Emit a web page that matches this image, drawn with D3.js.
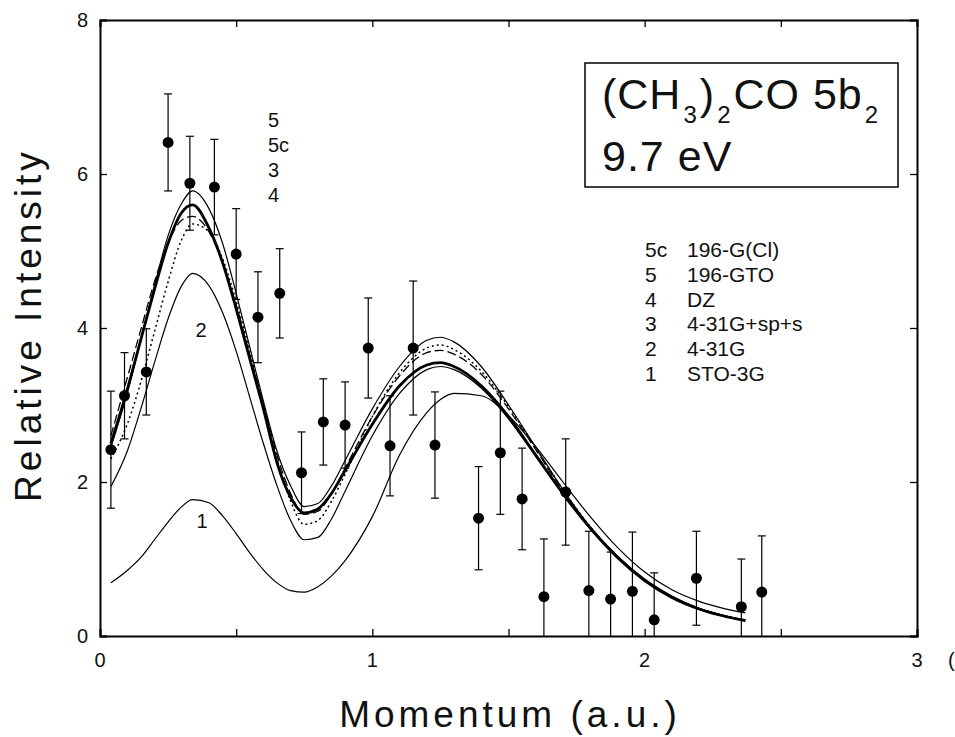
<!DOCTYPE html>
<html>
<head>
<meta charset="utf-8">
<script src="https://cdn.jsdelivr.net/npm/d3@7"></script>
<style>
  body { margin: 0; background: #fff; }
  text { font-family: "Liberation Sans", Arial, sans-serif; fill: #111; }
</style>
</head>
<body>
<svg width="955" height="737"></svg>
<script>
// measured points (momentum, intensity, error)
const momentum = [0.04, 0.09, 0.17, 0.25, 0.33, 0.42, 0.50, 0.58, 0.66, 0.74, 0.82, 0.90, 0.985, 1.065,
  1.15, 1.23, 1.39, 1.47, 1.55, 1.63, 1.71, 1.795, 1.875, 1.955, 2.035, 2.19, 2.355, 2.43];
const intensity = [2.42, 3.12, 3.43, 6.41, 5.88, 5.83, 4.96, 4.14, 4.45, 2.12, 2.78, 2.74, 3.74, 2.47,
  3.74, 2.48, 1.53, 2.38, 1.78, 0.51, 1.87, 0.59, 0.48, 0.58, 0.21, 0.75, 0.38, 0.57];
const errors = [0.76, 0.56, 0.56, 0.63, 0.61, 0.62, 0.59, 0.59, 0.58, 0.53, 0.56, 0.56, 0.65, 0.65,
  0.87, 0.69, 0.67, 0.8, 0.66, 0.75, 0.69, 0.77, 0.61, 0.77, 0.61, 0.61, 0.62, 0.73];

// calculated curves, all on the same momentum grid
const grid = [0.04, 0.1, 0.15, 0.2, 0.25, 0.3, 0.34, 0.4, 0.45, 0.5, 0.55, 0.6, 0.65, 0.7, 0.75, 0.8, 0.85,
  0.9, 1.0, 1.1, 1.2, 1.25, 1.3, 1.4, 1.5, 1.6, 1.7, 1.8, 1.9, 2.0, 2.1, 2.2, 2.3, 2.37];
const sto3g = [0.69, 0.85, 1.02, 1.25, 1.48, 1.68, 1.77, 1.73, 1.56, 1.33, 1.08, 0.86, 0.69, 0.59, 0.57, 0.64, 0.78,
  0.98, 1.55, 2.35, 2.9, 3.07, 3.15, 3.12, 2.86, 2.46, 2.0, 1.55, 1.15, 0.83, 0.6, 0.45, 0.35, 0.3];
const g431 = [1.94, 2.4, 2.95, 3.55, 4.12, 4.55, 4.71, 4.55, 4.2, 3.7, 3.1, 2.5, 1.95, 1.5, 1.25, 1.28, 1.52,
  1.88, 2.6, 3.15, 3.46, 3.5, 3.46, 3.22, 2.82, 2.33, 1.84, 1.4, 1.03, 0.73, 0.51, 0.36, 0.26, 0.21];
const g431sps = [2.6, 3.35, 3.98, 4.6, 5.1, 5.4, 5.45, 5.25, 4.85, 4.3, 3.65, 3.0, 2.35, 1.85, 1.58, 1.62, 1.85,
  2.18, 2.85, 3.38, 3.68, 3.71, 3.66, 3.4, 2.95, 2.42, 1.88, 1.4, 1.02, 0.73, 0.51, 0.35, 0.25, 0.2];
const dz = [2.3, 2.75, 3.3, 3.95, 4.6, 5.15, 5.35, 5.25, 4.9, 4.35, 3.7, 3.0, 2.3, 1.75, 1.45, 1.5, 1.75,
  2.1, 2.85, 3.42, 3.74, 3.78, 3.72, 3.44, 2.98, 2.44, 1.9, 1.42, 1.03, 0.73, 0.51, 0.35, 0.25, 0.2];
const gto196 = [2.45, 3.15, 3.85, 4.55, 5.2, 5.62, 5.78, 5.55, 5.1, 4.45, 3.75, 3.05, 2.4, 1.95, 1.68, 1.72, 1.95,
  2.28, 2.95, 3.5, 3.84, 3.88, 3.82, 3.5, 3.0, 2.45, 1.9, 1.42, 1.04, 0.74, 0.52, 0.36, 0.26, 0.21];
const gci196 = [2.5, 3.2, 3.85, 4.5, 5.1, 5.5, 5.6, 5.3, 4.85, 4.25, 3.6, 2.95, 2.25, 1.8, 1.6, 1.65, 1.85,
  2.15, 2.75, 3.25, 3.52, 3.55, 3.5, 3.25, 2.85, 2.35, 1.85, 1.4, 1.02, 0.72, 0.5, 0.35, 0.25, 0.2];

const legendKeys = ["5c", "5", "4", "3", "2", "1"];
const legendNames = ["196-G(Cl)", "196-GTO", "DZ", "4-31G+sp+s", "4-31G", "STO-3G"];

const xTicks = [0, 1, 2, 3];
const yTicks = [0, 2, 4, 6, 8];

let svg = d3.select("svg");
svg.append("rect").attr("width", 955).attr("height", 737).attr("fill", "#fff");

let x = d3.scaleLinear().domain([0, 3]).range([100, 917]);
let y = d3.scaleLinear().domain([0, 8]).range([636, 20]);

// axes: inward ticks on all four sides
svg.append("g").attr("transform", "translate(0,636)")
    .call(d3.axisBottom(x).tickValues(d3.range(0, 3.01, 0.5)).tickSize(-7).tickFormat(""));
svg.append("g").attr("transform", "translate(0,20)")
    .call(d3.axisTop(x).tickValues(d3.range(0, 3.01, 0.5)).tickSize(-7).tickFormat(""));
svg.append("g").attr("transform", "translate(100,0)")
    .call(d3.axisLeft(y).tickValues(yTicks).tickSize(-7).tickFormat(""));
svg.append("g").attr("transform", "translate(917,0)")
    .call(d3.axisRight(y).tickValues(yTicks).tickSize(-7).tickFormat(""));
svg.selectAll(".domain").attr("stroke", "#000").attr("stroke-width", 2);
svg.selectAll(".tick line").attr("stroke", "#000").attr("stroke-width", 1.3);

// tick labels
svg.append("g").selectAll("text").data(xTicks).enter().append("text")
    .attr("x", d => x(d)).attr("y", 667)
    .attr("text-anchor", "middle").style("font-size", "20px")
    .text(d => d);
svg.append("g").selectAll("text").data(yTicks).enter().append("text")
    .attr("x", 88).attr("y", d => y(d) + 7)
    .attr("text-anchor", "end").style("font-size", "20px")
    .text(d => d);
svg.append("text").attr("x", 948).attr("y", 667).style("font-size", "20px").text("(");

// axis titles
svg.append("text")
    .attr("x", 510).attr("y", 727)
    .attr("text-anchor", "middle")
    .style("font-size", "37px").style("letter-spacing", "4px")
    .text("Momentum (a.u.)");
svg.append("text")
    .attr("transform", "translate(41,325) rotate(-90)")
    .attr("text-anchor", "middle")
    .style("font-size", "37px").style("letter-spacing", "4px")
    .text("Relative Intensity");

// --------------- //
// CURVES //
// --------------- //
let curves = [
  { v: sto3g, w: 1.2, dash: null },
  { v: g431, w: 1.2, dash: null },
  { v: g431sps, w: 1.3, dash: "9,4" },
  { v: dz, w: 1.5, dash: "2,3" },
  { v: gto196, w: 1.2, dash: null },
  { v: gci196, w: 2.8, dash: null }
];
let line = d3.line()
    .x((d, i) => x(grid[i]))
    .y(d => y(d))
    .curve(d3.curveMonotoneX);
svg.append("g").selectAll("path").data(curves).enter().append("path")
    .attr("d", d => line(d.v))
    .attr("fill", "none")
    .attr("stroke", "#000")
    .attr("stroke-width", d => d.w)
    .attr("stroke-dasharray", d => d.dash);

// --------------- //
// POINTS //
// --------------- //
let pts = momentum.map((m, i) => ({ m: m, v: intensity[i], e: errors[i] }));
let bars = svg.append("g").attr("stroke", "#000").attr("stroke-width", 1.2);
pts.forEach(d => {
  let top = y(d.v + d.e), bot = y(Math.max(0, d.v - d.e));
  bars.append("line").attr("x1", x(d.m)).attr("x2", x(d.m)).attr("y1", top).attr("y2", bot);
  bars.append("line").attr("x1", x(d.m) - 4).attr("x2", x(d.m) + 4).attr("y1", top).attr("y2", top);
  if (d.v - d.e > 0)
    bars.append("line").attr("x1", x(d.m) - 4).attr("x2", x(d.m) + 4).attr("y1", bot).attr("y2", bot);
});
svg.append("g").selectAll("circle").data(pts).enter().append("circle")
    .attr("cx", d => x(d.m)).attr("cy", d => y(d.v)).attr("r", 5.5)
    .attr("fill", "#000");

// --------------- //
// LABELS //
// --------------- //
let peakLabels = ["5", "5c", "3", "4"];
svg.append("g").selectAll("text").data(peakLabels).enter().append("text")
    .attr("x", 268).attr("y", (d, i) => 127 + i * 25)
    .style("font-size", "20px").text(d => d);
svg.append("text").attr("x", 201).attr("y", 337).attr("text-anchor", "middle")
    .style("font-size", "20px").text("2");
svg.append("text").attr("x", 202).attr("y", 528).attr("text-anchor", "middle")
    .style("font-size", "20px").text("1");

// title box
svg.append("rect").attr("x", 585).attr("y", 63).attr("width", 313).attr("height", 124)
    .attr("fill", "none").attr("stroke", "#000").attr("stroke-width", 1.5);
let t1 = svg.append("text").attr("x", 602).attr("y", 109)
    .style("font-size", "43px").style("letter-spacing", "1px");
t1.append("tspan").text("(CH");
t1.append("tspan").attr("dx", 2).attr("dy", 14).style("font-size", "24px").text("3");
t1.append("tspan").attr("dx", 2).attr("dy", -14).text(")");
t1.append("tspan").attr("dx", 2).attr("dy", 14).style("font-size", "24px").text("2");
t1.append("tspan").attr("dx", 2).attr("dy", -14).text("CO 5b");
t1.append("tspan").attr("dx", 2).attr("dy", 14).style("font-size", "24px").text("2");
svg.append("text").attr("x", 602).attr("y", 171)
    .style("font-size", "43px").style("letter-spacing", "1px").text("9.7 eV");

// legend list
let leg = svg.append("g").style("font-size", "21px");
leg.selectAll(".k").data(legendKeys).enter().append("text")
    .attr("x", 645).attr("y", (d, i) => 257 + i * 24.8).text(d => d);
leg.selectAll(".n").data(legendNames).enter().append("text")
    .attr("x", 687).attr("y", (d, i) => 257 + i * 24.8).text(d => d);
</script>
</body>
</html>
